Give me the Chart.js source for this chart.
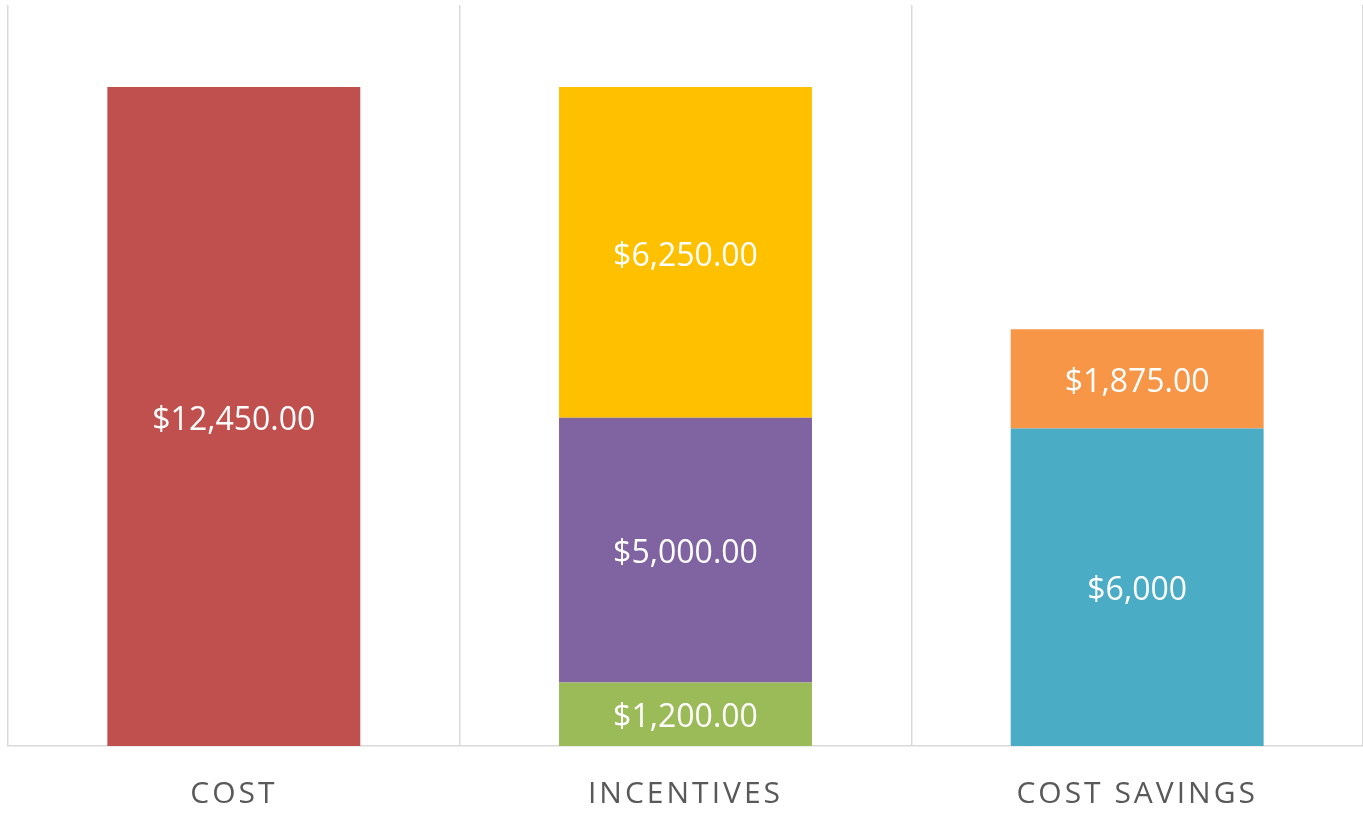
<!DOCTYPE html>
<html>
<head>
<meta charset="utf-8">
<script src="https://cdn.jsdelivr.net/npm/chart.js@4"></script>
<style>
  html, body { margin: 0; padding: 0; background: #fff; }
  #wrap { width: 1363px; height: 822px; }
</style>
</head>
<body>
<div id="wrap"><canvas id="savingsChart"></canvas></div>
<script>
const categories = ['COST', 'INCENTIVES', 'COST SAVINGS'];

// one segment per dataset, null where the segment is not in that column
const costValues      = [12450, null, null];
const rebateValues    = [null, 1200, null];
const taxCreditValues = [null, 5000, null];
const grantValues     = [null, 6250, null];
const energyValues    = [null, null, 6000];
const upkeepValues    = [null, null, 1875];

const costLabels      = ['$12,450.00', '', ''];
const rebateLabels    = ['', '$1,200.00', ''];
const taxCreditLabels = ['', '$5,000.00', ''];
const grantLabels     = ['', '$6,250.00', ''];
const energyLabels    = ['', '', '$6,000'];
const upkeepLabels    = ['', '', '$1,875.00'];

const FONT = "'Open Sans', 'DejaVu Sans', sans-serif";

const segment = (data, labels, color) => ({
    data: data,
    valueLabels: labels,
    backgroundColor: color,
    borderWidth: 0,
    categoryPercentage: 1,
    barPercentage: 0.56
});

// x labels are letter-spaced, bar labels are not
const spacingPlugin = {
    id: 'spacing',
    beforeDraw(chart) {
        chart.ctx.letterSpacing = '3px';
    }
};

const valueLabelPlugin = {
    id: 'valueLabels',
    afterDatasetsDraw(chart) {
        const ctx = chart.ctx;
        ctx.save();
        ctx.letterSpacing = '0px';
        ctx.fillStyle = '#ffffff';
        ctx.font = '32px ' + FONT;
        ctx.textAlign = 'center';
        ctx.textBaseline = 'middle';
        chart.data.datasets.forEach((ds, i) => {
            const meta = chart.getDatasetMeta(i);
            meta.data.forEach((bar, j) => {
                if (ds.data[j] == null) return;
                const p = bar.getProps(['x', 'y', 'base'], true);
                // nudge down a little so the digits sit in the middle
                ctx.fillText(ds.valueLabels[j], p.x, (p.y + p.base) / 2 + 4);
            });
        });
        ctx.restore();
    }
};

const ctx = document.getElementById('savingsChart').getContext('2d');
const savingsChart = new Chart(ctx, {
    type: 'bar',
    data: {
        labels: categories,
        datasets: [
            segment(costValues, costLabels, '#C0504D'),
            segment(rebateValues, rebateLabels, '#9BBB59'),
            segment(taxCreditValues, taxCreditLabels, '#8064A2'),
            segment(grantValues, grantLabels, '#FFC000'),
            segment(energyValues, energyLabels, '#4BACC6'),
            segment(upkeepValues, upkeepLabels, '#F79646')
        ]
    },
    options: {
        responsive: true,
        maintainAspectRatio: false,
        animation: false,
        layout: {
            padding: { left: 8, top: 5, right: 0, bottom: 11 }
        },
        plugins: {
            legend: { display: false },
            tooltip: { enabled: false }
        },
        scales: {
            x: {
                stacked: true,
                afterFit(scale) {
                    scale.height = 65;
                },
                grid: {
                    offset: true,
                    color: '#D9D9D9',
                    lineWidth: 1.5,
                    drawTicks: false
                },
                border: { color: '#D9D9D9', width: 1.5 },
                ticks: {
                    color: '#595959',
                    padding: 30,
                    font: { family: FONT, size: 30 }
                }
            },
            y: {
                stacked: true,
                display: false,
                min: 0,
                max: 14000
            }
        }
    },
    plugins: [spacingPlugin, valueLabelPlugin]
});
</script>
</body>
</html>
